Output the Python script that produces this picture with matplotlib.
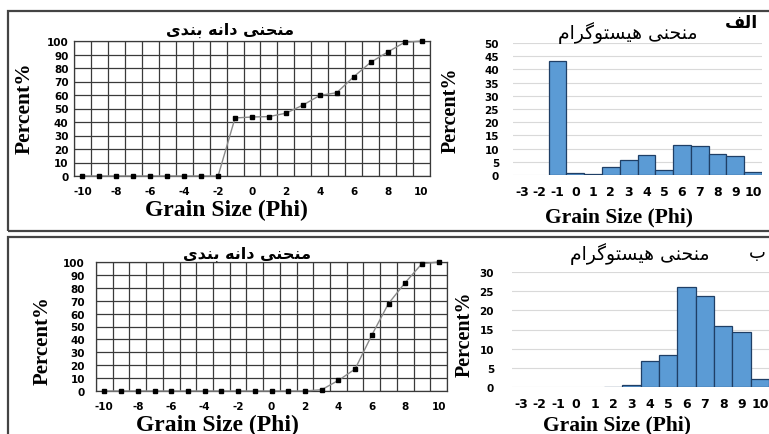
import matplotlib
matplotlib.use("Agg")
import matplotlib.pyplot as plt
import numpy as np
from matplotlib.patches import Rectangle

plt.rcParams["axes.unicode_minus"] = False

W, H = 769, 435

# phi classes for the cumulative (grading) curves
phi_line = [-10, -9, -8, -7, -6, -5, -4, -3, -2, -1, 0, 1, 2, 3, 4, 5, 6, 7, 8, 9, 10]
cum_a = [0, 0, 0, 0, 0, 0, 0, 0, 0, 43.0, 43.7, 44.0, 46.5, 52.5, 59.7, 61.7, 73.5, 84.2, 91.8, 99.0, 100.0]
cum_b = [0, 0, 0, 0, 0, 0, 0, 0, 0, 0, 0, 0, 0, 1.0, 8.2, 17.0, 43.3, 67.8, 84.0, 98.7, 100.0]

# phi classes for the histograms
phi_hist = [-3, -2, -1, 0, 1, 2, 3, 4, 5, 6, 7, 8, 9, 10]
hist_a = [0, 0, 43.0, 0.6, 0.4, 2.9, 5.8, 7.4, 2.0, 11.5, 11.0, 7.8, 7.3, 1.1]
hist_b = [0, 0, 0, 0, 0, 0.1, 0.6, 6.9, 8.4, 26.1, 23.7, 15.8, 14.3, 2.0]

# Persian captions, pre-shaped (presentation forms, visual order)
title_grading = "\uFEEF\uFEAA\uFEE8\uFE91 \uFEEA\uFEE7\uFE8D\uFEA9 \uFEF0\uFEE8\uFEA4\uFEE8\uFEE3"
title_hist = "\uFEE1\uFE8D\uFEAE\uFB94\uFEEE\uFE98\uFEB4\uFEF4\uFEEB \uFEF0\uFEE8\uFEA4\uFEE8\uFEE3"
tag_a = "\uFED2\uFEDF\uFE8D"
tag_b = "\uFE8F"

FA = ["DejaVu Sans"]
SERIF = ["Liberation Serif", "DejaVu Serif"]
GRID = "#3a3a3a"


def box(l, t, r, b):
    return [l / W, 1 - b / H, (r - l) / W, (b - t) / H]


def ftext(x, y, s, va="center", **kw):
    fig.text(x / W, 1 - y / H, s, ha="center", va=va, **kw)


def grading(ax, y, ypad):
    ax.plot(phi_line, y, color="#8a8a8a", lw=1.0, marker="s", ms=2.6,
            mfc="black", mec="black", zorder=3, clip_on=False)
    ax.set_xlim(-10.5, 10.5)
    ax.set_ylim(0, 100)
    ax.set_xticks(range(-10, 11, 2))
    ax.set_xticks(np.arange(-10.5, 10.6, 1), minor=True)
    ax.set_yticks(range(0, 101, 10))
    ax.grid(which="minor", axis="x", color=GRID, lw=0.9)
    ax.grid(which="major", axis="y", color=GRID, lw=0.9)
    ax.tick_params(which="both", length=0)
    ax.tick_params(axis="x", pad=7, labelsize=7.5)
    ax.tick_params(axis="y", pad=ypad, labelsize=7.5)
    for lab in ax.get_xticklabels() + ax.get_yticklabels():
        lab.set_fontweight("bold")
    for sp in ax.spines.values():
        sp.set_color(GRID)
        sp.set_linewidth(0.9)


def histogram(ax, vals, top, ypad):
    lw = [0.9 if v > 0 else 0 for v in vals]
    ax.bar(phi_hist, vals, width=1.0, color="#5b9bd5", edgecolor="#1f3f66",
           linewidth=lw, zorder=3)
    ax.set_xlim(-3.5, 10.5)
    ax.set_ylim(0, top)
    ax.set_xticks(phi_hist)
    ax.set_yticks(range(0, top + 1, 5))
    ax.grid(axis="y", color="#d9d9d9", lw=0.8)
    ax.set_axisbelow(True)
    for sp in ax.spines.values():
        sp.set_visible(False)
    ax.tick_params(length=0)
    ax.tick_params(axis="x", pad=7, labelsize=9)
    ax.tick_params(axis="y", pad=ypad, labelsize=7.5)
    for lab in ax.get_xticklabels() + ax.get_yticklabels():
        lab.set_fontweight("bold")


fig = plt.figure(figsize=(W / 100, H / 100), dpi=100)
fig.patch.set_facecolor("white")

# panel frames
fig.add_artist(Rectangle((8 / W, 1 - 232 / H), 780 / W, 220 / H, transform=fig.transFigure,
                         fill=False, edgecolor="#444444", lw=1.6))
fig.add_artist(Rectangle((8 / W, 1 - 450 / H), 780 / W, 212 / H, transform=fig.transFigure,
                         fill=False, edgecolor="#444444", lw=1.6))

ax1 = fig.add_axes(box(74, 42, 430, 177))
grading(ax1, cum_a, 4)
ax2 = fig.add_axes(box(513, 44, 762, 176))
histogram(ax2, hist_a, 50, 10)
ax3 = fig.add_axes(box(96, 263, 447, 392))
grading(ax3, cum_b, 8)
ax4 = fig.add_axes(box(512, 273, 769, 388))
histogram(ax4, hist_b, 30, 13)

# captions
ftext(230, 30, title_grading, family=FA, fontsize=11.5, fontweight="bold")
ftext(247, 254, title_grading, family=FA, fontsize=11.5, fontweight="bold")
ftext(628, 33, title_hist, family=FA, fontsize=13.5)
ftext(640, 254, title_hist, family=FA, fontsize=13.5)
ftext(742, 23, tag_a, family=FA, fontsize=12.5, fontweight="bold")
ftext(757, 253, tag_b, family=FA, fontsize=13)

# axis titles
for x, y, fs in [(25, 108, 15.5), (43, 341, 15), (451, 110, 14.5), (465, 334, 14.5)]:
    ftext(x, y, "Percent%", family=SERIF, fontsize=fs, fontweight="bold", rotation=90)
for x, y, fs in [(226, 216, 17), (217, 431, 17), (619, 222, 15.5), (617, 430, 15.5)]:
    ftext(x, y, "Grain Size (Phi)", va="baseline", family=SERIF, fontsize=fs, fontweight="bold")

fig.savefig("out.png", dpi=100)
